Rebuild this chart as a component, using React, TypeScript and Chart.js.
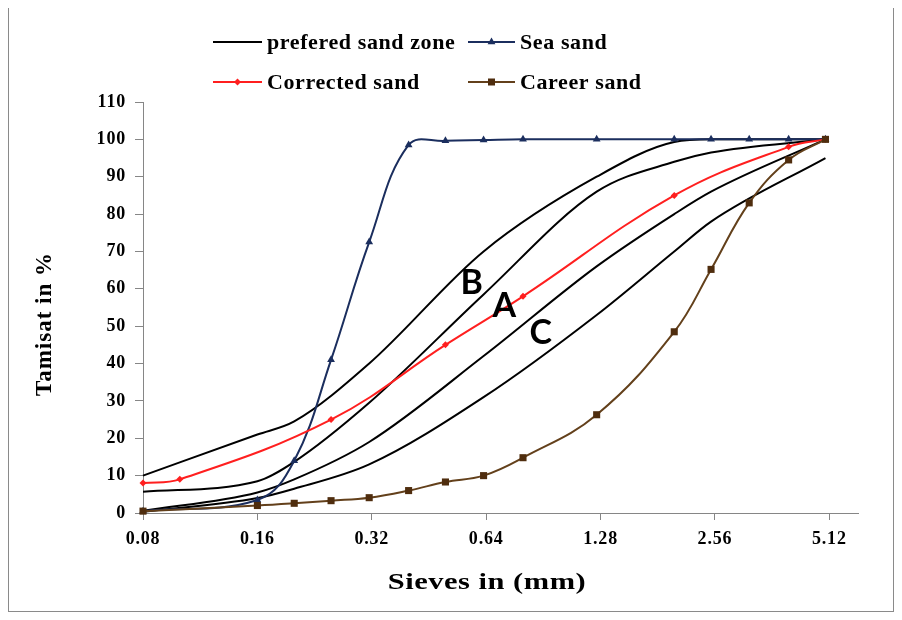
import React, { useEffect, useRef } from "react";
import { Chart, registerables } from "chart.js";

Chart.register(...registerables);

// ---- axis ticks ----
const xTickValues = [0.08, 0.16, 0.32, 0.64, 1.28, 2.56, 5.12];
const xTickLabels = ["0.08", "0.16", "0.32", "0.64", "1.28", "2.56", "5.12"];
const xMin = 0.08;
const xMax = 6.09;
const yMin = 0;
const yMax = 110;
const yStep = 10;

// ---- preferred sand zone (4 boundary curves) ----
const zoneSieves = [0.08, 0.16, 0.2, 0.315, 0.63, 1.25, 2, 2.5, 5];
const zoneUpperB = [10, 21, 24.5, 40, 70, 90, 99.3, 100, 100];
const zoneLowerB = [5.7, 8.5, 13.7, 29.5, 58.5, 86, 94, 96.5, 100];
const zoneLowerA = [0.6, 5.5, 9, 19, 42, 66, 80, 86, 100];
const zoneLowerC = [0.3, 4, 6.5, 13, 31, 53, 70, 78, 95];

// ---- sea sand ----
const seaSieves = [0.08, 0.16, 0.2, 0.25, 0.315, 0.4, 0.5, 0.63, 0.8, 1.25, 2, 2.5, 3.15, 4, 5];
const seaSand = [0.5, 3.5, 14, 41, 72.5, 98.5, 99.6, 99.8, 100, 100, 100, 100, 100, 100, 100];

// ---- corrected sand ----
const correctedSieves = [0.08, 0.1, 0.25, 0.5, 0.8, 2, 4, 5];
const correctedSand = [8, 9, 25, 45, 58, 85, 98, 100];

// ---- career sand ----
const careerSieves = [0.08, 0.16, 0.2, 0.25, 0.315, 0.4, 0.5, 0.63, 0.8, 1.25, 2, 2.5, 3.15, 4, 5];
const careerSand = [0.5, 2, 2.6, 3.3, 4.1, 6, 8.3, 10, 14.8, 26.3, 48.5, 65.2, 83, 94.5, 100];

// ---- zone labels (in data units) ----
const zoneLabelText = ["B", "A", "C"];
const zoneLabelX = [0.586, 0.714, 0.891];
const zoneLabelY = [61.5, 55.5, 48.1];

// ---- texts ----
const xTitle = "Sieves in (mm)";
const yTitle = "Tamisat in %";
const legendNames = ["prefered sand zone", "Sea sand", "Corrected sand", "Career sand"];

// ---- styles ----
const BLACK = "#000000";
const NAVY = "#1b2e5e";
const RED = "#ff1f1f";
const BROWN = "#63401b";
const BROWN_MARK = "#4f2d0e";
const AXIS = "#868686";
const SERIF = "'Liberation Serif', 'Times New Roman', serif";

const toXY = (xs: number[], ys: number[]) => xs.map((x, i) => ({ x, y: ys[i] }));

type Marker = "none" | "triangle" | "rectRot" | "rect";

const legendLayout = [
  { name: legendNames[0], color: BLACK, mark: BLACK, marker: "none" as Marker, x0: 204, x1: 253, y: 34 },
  { name: legendNames[1], color: NAVY, mark: NAVY, marker: "triangle" as Marker, x0: 459, x1: 506, y: 34 },
  { name: legendNames[2], color: RED, mark: RED, marker: "rectRot" as Marker, x0: 204, x1: 253, y: 74 },
  { name: legendNames[3], color: BROWN, mark: BROWN_MARK, marker: "rect" as Marker, x0: 459, x1: 506, y: 74 },
];

function drawMarker(ctx: CanvasRenderingContext2D, m: Marker, x: number, y: number, color: string) {
  ctx.fillStyle = color;
  ctx.beginPath();
  if (m === "triangle") {
    const r = 4.5;
    ctx.moveTo(x, y - r);
    ctx.lineTo(x + r * 0.866, y + r * 0.5);
    ctx.lineTo(x - r * 0.866, y + r * 0.5);
    ctx.closePath();
    ctx.fill();
  } else if (m === "rectRot") {
    const r = 3.5;
    ctx.moveTo(x, y - r);
    ctx.lineTo(x + r, y);
    ctx.lineTo(x, y + r);
    ctx.lineTo(x - r, y);
    ctx.closePath();
    ctx.fill();
  } else if (m === "rect") {
    ctx.fillRect(x - 3.5, y - 3.5, 7, 7);
  }
}

const overlayPlugin = {
  id: "overlay",
  beforeDraw(chart: any) {
    (chart.ctx as any).letterSpacing = "0.8px";
  },
  afterDraw(chart: any) {
    const ctx: CanvasRenderingContext2D = chart.ctx;
    ctx.save();
    (ctx as any).letterSpacing = "0.6px";
    // legend
    ctx.font = `bold 22px ${SERIF}`;
    ctx.textBaseline = "middle";
    ctx.textAlign = "left";
    for (const it of legendLayout) {
      ctx.strokeStyle = it.color;
      ctx.lineWidth = 2;
      ctx.beginPath();
      ctx.moveTo(it.x0, it.y);
      ctx.lineTo(it.x1, it.y);
      ctx.stroke();
      drawMarker(ctx, it.marker, (it.x0 + it.x1) / 2, it.y, it.mark);
      ctx.fillStyle = "#000";
      ctx.fillText(it.name, it.x1 + 5, it.y + 1);
    }
    // axis titles
    ctx.textAlign = "center";
    (ctx as any).letterSpacing = "0.4px";
    ctx.font = `bold 24px ${SERIF}`;
    ctx.save();
    ctx.translate(478, 575);
    ctx.scale(1.27, 1);
    ctx.fillText(xTitle, 0, 0);
    ctx.restore();
    (ctx as any).letterSpacing = "1px";
    ctx.font = `bold 23px ${SERIF}`;
    ctx.save();
    ctx.translate(36, 316);
    ctx.rotate(-Math.PI / 2);
    ctx.fillText(yTitle, 0, 0);
    ctx.restore();
    // zone labels
    (ctx as any).letterSpacing = "0px";
    ctx.font = `bold 34px Lato, 'Open Sans', sans-serif`;
    const xs = chart.scales.x;
    const ys = chart.scales.y;
    zoneLabelText.forEach((t, i) => {
      ctx.fillText(t, xs.getPixelForValue(zoneLabelX[i]), ys.getPixelForValue(zoneLabelY[i]));
    });
    ctx.restore();
  },
};

export default function App() {
  const ref = useRef<HTMLCanvasElement>(null);

  useEffect(() => {
    if (!ref.current) return;
    const tickFont = { family: SERIF, size: 18, weight: "bold" as const };
    const zoneDs = (data: number[]) => ({
      label: legendNames[0],
      data: toXY(zoneSieves, data),
      borderColor: BLACK,
      backgroundColor: BLACK,
      borderWidth: 2,
      pointRadius: 0,
      cubicInterpolationMode: "monotone" as const,
      clip: false as const,
      order: 3,
    });
    const chart = new Chart(ref.current, {
      type: "line",
      data: {
        datasets: [
          zoneDs(zoneUpperB),
          zoneDs(zoneLowerB),
          zoneDs(zoneLowerA),
          zoneDs(zoneLowerC),
          {
            label: legendNames[1],
            data: toXY(seaSieves, seaSand),
            borderColor: NAVY,
            backgroundColor: NAVY,
            borderWidth: 2,
            pointStyle: "triangle",
            pointRadius: 4.5,
            pointBorderWidth: 0,
            tension: 0.4,
            clip: false as const,
            order: 2,
          },
          {
            label: legendNames[2],
            data: toXY(correctedSieves, correctedSand),
            borderColor: RED,
            backgroundColor: RED,
            borderWidth: 2,
            pointStyle: "rectRot",
            pointRadius: 3.5,
            pointBorderWidth: 0,
            tension: 0.4,
            clip: false as const,
            order: 1,
          },
          {
            label: legendNames[3],
            data: toXY(careerSieves, careerSand),
            borderColor: BROWN,
            backgroundColor: BROWN_MARK,
            borderWidth: 2,
            pointStyle: "rect",
            pointRadius: 5,
            pointBorderWidth: 0,
            tension: 0.4,
            clip: false as const,
            order: 0,
          },
        ],
      },
      options: {
        responsive: false,
        animation: false,
        layout: { padding: { top: 94, right: 35, left: 0, bottom: 0 } },
        plugins: {
          legend: { display: false },
          tooltip: { enabled: false },
          title: { display: false },
        },
        scales: {
          x: {
            type: "logarithmic",
            min: xMin,
            max: xMax,
            afterBuildTicks: (s: any) => {
              s.ticks = xTickValues.map((v) => ({ value: v }));
            },
            afterFit: (s: any) => {
              s.height = 98;
            },
            ticks: {
              autoSkip: false,
              maxRotation: 0,
              minRotation: 0,
              padding: 9,
              color: "#000",
              font: tickFont,
              callback: (v: any) => {
                const i = xTickValues.findIndex((t) => Math.abs(t - Number(v)) < 1e-9);
                return i >= 0 ? xTickLabels[i] : "";
              },
            },
            grid: { display: true, drawOnChartArea: false, drawTicks: true, tickLength: 7, color: AXIS },
            border: { display: true, color: AXIS, width: 1 },
          },
          y: {
            type: "linear",
            min: yMin,
            max: yMax,
            afterFit: (s: any) => {
              s.width = 134;
            },
            ticks: { stepSize: yStep, padding: 9, color: "#000", font: tickFont },
            grid: { display: true, drawOnChartArea: false, drawTicks: true, tickLength: 8, color: AXIS },
            border: { display: true, color: AXIS, width: 1 },
          },
        },
      },
      plugins: [overlayPlugin],
    });
    return () => chart.destroy();
  }, []);

  return (
    <div
      style={{
        width: 886,
        height: 604,
        boxSizing: "border-box",
        borderLeft: "1px solid #8a8a8a",
        borderRight: "1px solid #8a8a8a",
        borderBottom: "1px solid #8a8a8a",
        background: "#fff",
      }}
    >
      <canvas ref={ref} width={884} height={603} style={{ display: "block", width: 884, height: 603 }} />
    </div>
  );
}
